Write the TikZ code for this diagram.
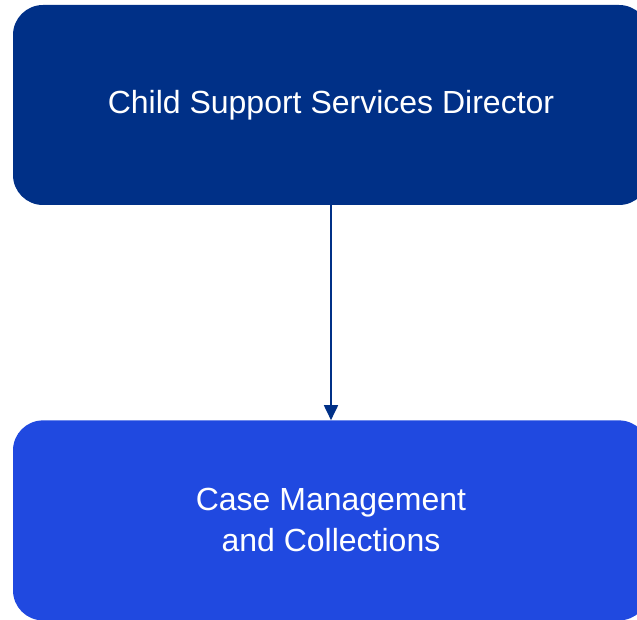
\documentclass[tikz,border=0pt]{standalone}
\usepackage{fontspec}
\setmainfont{Liberation Sans}
\usepackage{tikz}
\usetikzlibrary{positioning, arrows.meta}

\definecolor{topblue}{HTML}{003087}
\definecolor{subblue}{HTML}{2049E0}

\begin{document}
\begin{tikzpicture}[x=1pt, y=1pt,
    box/.style = {rounded corners=30pt, minimum width=636pt, minimum height=200pt,
                  text=white, align=center, font=\fontsize{32}{41}\selectfont, inner sep=0pt},
    link/.style = {draw=topblue, line width=1.8pt, -{Triangle[length=15pt, width=14pt]}}]
                \useasboundingbox (0,0) rectangle (637,620);
                % director box
                \node[box, fill=topblue] (director) at (331,515) {Child Support Services Director};
                \node[box, fill=subblue, below=215pt of director] (casemgmt) {Case Management\\and Collections};
                \draw[link] (director) -- (casemgmt);
            \end{tikzpicture}
\end{document}
